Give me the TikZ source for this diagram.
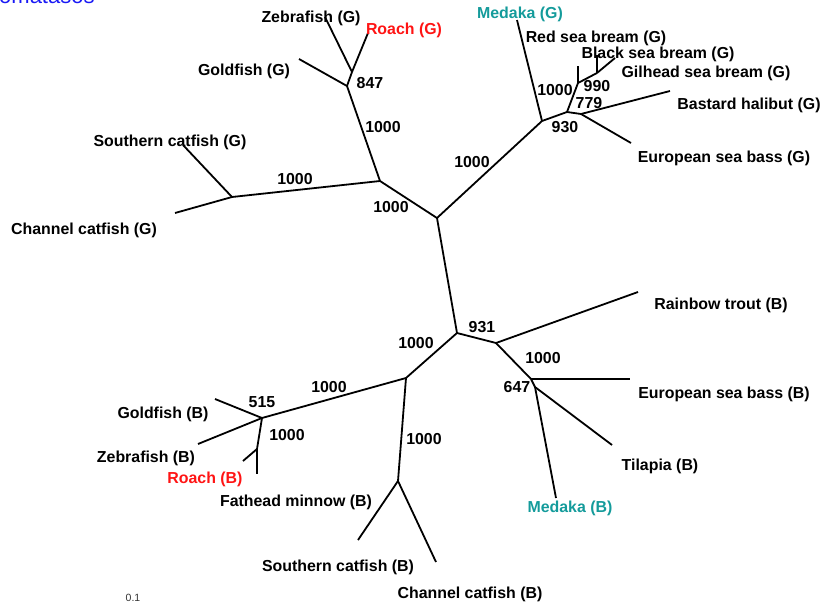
\documentclass[tikz,border=0pt]{standalone}
\usepackage{fontspec}
\setmainfont{Liberation Sans}
\definecolor{roachred}{RGB}{255,20,20}
\definecolor{medteal}{RGB}{20,155,155}
\definecolor{titleblue}{RGB}{25,25,245}
\begin{document}
\begin{tikzpicture}[x=1pt,y=-1pt,
  br/.style={line width=1.8pt,black},
  lab/.style={font=\bfseries\fontsize{15.9}{18}\selectfont,inner sep=0pt,yshift=-1.5pt},
  bs/.style={lab}]
\useasboundingbox (0,0) rectangle (823,605);
% title fragment
\node[anchor=base west,inner sep=0pt,text=titleblue,font=\fontsize{22}{24}\selectfont] (ttl) at (-1,4) {omatasos};
% ---- inner nodes
\coordinate (C0) at (437,218);
\coordinate (A) at (380,181);
\coordinate (Cf) at (232,197);
\coordinate (B) at (347,86);
\coordinate (B2) at (352,72);
\coordinate (P) at (542,121);
\coordinate (Q) at (567,112);
\coordinate (Q2) at (581,114);
\coordinate (R) at (578,83);
\coordinate (S) at (597,73);
\coordinate (D) at (457,333);
\coordinate (E) at (406,378);
\coordinate (F) at (262,418);
\coordinate (G) at (257,449);
\coordinate (H) at (398,481);
\coordinate (I) at (496,343);
\coordinate (J) at (531,379);
\coordinate (K) at (535,387);
% ---- tips
\coordinate (tSoCatG) at (183,145);
\coordinate (tChCatG) at (175,213);
\coordinate (tGoldG) at (299,59);
\coordinate (tZebG) at (325,17);
\coordinate (tRoachG) at (368,33);
\coordinate (tMedG) at (517,20);
\coordinate (tHal) at (670,91);
\coordinate (tEsbG) at (631,143);
\coordinate (tRsb) at (578,66);
\coordinate (tBsb) at (597,55);
\coordinate (tGsb) at (615,58);
\coordinate (tTrout) at (638,292);
\coordinate (tEsbB) at (630,379);
\coordinate (tTil) at (612,445);
\coordinate (tMedB) at (556,498);
\coordinate (tGoldB) at (215,399);
\coordinate (tZebB) at (198,444);
\coordinate (tRoachB) at (257,474);
\coordinate (tFat) at (243,461);
\coordinate (tSoCatB) at (358,540);
\coordinate (tChCatB) at (436,562);
% ---- branches
\draw[br] (C0) -- (A);
\draw[br] (A) -- (Cf);
\draw[br] (Cf) -- (tSoCatG);
\draw[br] (Cf) -- (tChCatG);
\draw[br] (A) -- (B);
\draw[br] (B) -- (tGoldG);
\draw[br] (B) -- (B2);
\draw[br] (B2) -- (tZebG);
\draw[br] (B2) -- (tRoachG);
\draw[br] (C0) -- (P);
\draw[br] (P) -- (tMedG);
\draw[br] (P) -- (Q);
\draw[br] (Q) -- (Q2);
\draw[br] (Q2) -- (tHal);
\draw[br] (Q2) -- (tEsbG);
\draw[br] (Q) -- (R);
\draw[br] (R) -- (tRsb);
\draw[br] (R) -- (S);
\draw[br] (S) -- (tBsb);
\draw[br] (S) -- (tGsb);
\draw[br] (C0) -- (D);
\draw[br] (D) -- (E);
\draw[br] (E) -- (F);
\draw[br] (F) -- (tGoldB);
\draw[br] (F) -- (tZebB);
\draw[br] (F) -- (G);
\draw[br] (G) -- (tRoachB);
\draw[br] (G) -- (tFat);
\draw[br] (E) -- (H);
\draw[br] (H) -- (tSoCatB);
\draw[br] (H) -- (tChCatB);
\draw[br] (D) -- (I);
\draw[br] (I) -- (tTrout);
\draw[br] (I) -- (J);
\draw[br] (J) -- (tEsbB);
\draw[br] (J) -- (K);
\draw[br] (K) -- (tTil);
\draw[br] (K) -- (tMedB);
% ---- taxon labels
\node[lab] (lZebG) at (311,17) {Zebrafish (G)};
\node[lab,text=roachred] (lRoachG) at (404,29) {Roach (G)};
\node[lab] (lGoldG) at (244,70) {Goldfish (G)};
\node[lab,text=medteal] (lMedG) at (520,13) {Medaka (G)};
\node[lab] (lRsb) at (596,37) {Red sea bream (G)};
\node[lab] (lBsb) at (658,53) {Black sea bream (G)};
\node[lab] (lGsb) at (706,72) {Gilhead sea bream (G)};
\node[lab] (lHal) at (749,104) {Bastard halibut (G)};
\node[lab] (lEsbG) at (724,157) {European sea bass (G)};
\node[lab] (lSoCatG) at (170,141) {Southern catfish (G)};
\node[lab] (lChCatG) at (84,229) {Channel catfish (G)};
\node[lab] (lTrout) at (721,304) {Rainbow trout (B)};
\node[lab] (lEsbB) at (724,393) {European sea bass (B)};
\node[lab] (lTil) at (660,465) {Tilapia (B)};
\node[lab,text=medteal] (lMedB) at (570,507) {Medaka (B)};
\node[lab] (lGoldB) at (163,413) {Goldfish (B)};
\node[lab] (lZebB) at (146,457) {Zebrafish (B)};
\node[lab,text=roachred] (lRoachB) at (205,478) {Roach (B)};
\node[lab] (lFat) at (296,501) {Fathead minnow (B)};
\node[lab] (lSoCatB) at (338,566) {Southern catfish (B)};
\node[lab] (lChCatB) at (470,593) {Channel catfish (B)};
% ---- bootstrap values
\node[bs] (b847) at (370,82) {847};
\node[bs] (bAB) at (383,126) {1000};
\node[bs] (bCfA) at (295,178) {1000};
\node[bs] (bAC) at (391,206) {1000};
\node[bs] (bCP) at (472,161) {1000};
\node[bs] (b930) at (565,126) {930};
\node[bs] (b779) at (589,102) {779};
\node[bs] (bR) at (555,89) {1000};
\node[bs] (b990) at (597,85) {990};
\node[bs] (b931) at (482,326) {931};
\node[bs] (bDE) at (416,342) {1000};
\node[bs] (bIJ) at (543,357) {1000};
\node[bs] (b647) at (517,386) {647};
\node[bs] (bEF) at (329,386) {1000};
\node[bs] (b515) at (262,401) {515};
\node[bs] (bFG) at (287,434) {1000};
\node[bs] (bEH) at (424,438) {1000};
% ---- scale
\node[inner sep=0pt,text=black!80,font=\fontsize{10.5}{12}\selectfont] (scale) at (133,598) {0.1};
\end{tikzpicture}
\end{document}
